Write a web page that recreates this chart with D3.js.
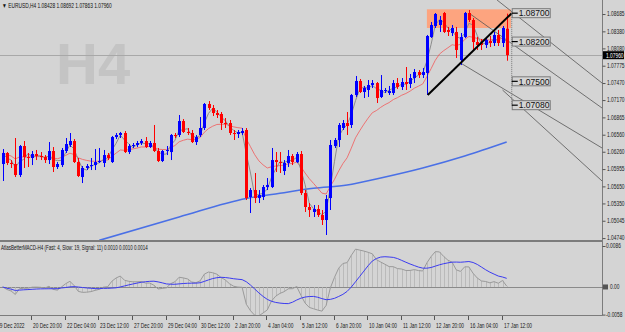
<!DOCTYPE html>
<html><head><meta charset="utf-8">
<script src="https://cdn.jsdelivr.net/npm/d3@7"></script>
<style>
body{margin:0;background:#d4d4d4;overflow:hidden}
svg{display:block}
text{font-family:"Liberation Sans",Arial,sans-serif;}
</style>
</head><body><svg id="c" width="625" height="332"></svg>
<script>
// ---------- DATA ----------
const title = "▼ EURUSD,H4  1.08428 1.08692 1.07863 1.07960";
const macdTitle = "AtlasBetterMACD-H4 (Fast: 4, Slow: 19, Signal: 11) 0.0010 0.0010 0.0014";
const opens = [1.06044,1.06238,1.06062,1.06044,1.05850,1.06361,1.06167,1.06150,1.06220,1.06185,
1.06167,1.06114,1.06273,1.05991,1.06026,1.06273,1.06379,1.06449,1.06079,1.05815,
1.05974,1.06009,1.06026,1.06079,1.06062,1.06202,1.06079,1.06519,1.06555,1.06590,
1.06255,1.06361,1.06379,1.06414,1.06449,1.06343,1.06414,1.06273,1.06097,1.06273,
1.06255,1.06555,1.06555,1.06801,1.06608,1.06590,1.06431,1.06555,1.06678,1.07101,
1.07030,1.06942,1.06925,1.06766,1.06766,1.06590,1.06572,1.06590,1.06643,1.05463,
1.05586,1.05445,1.05463,1.05639,1.05639,1.06114,1.06079,1.05921,1.06062,1.06185,
1.06079,1.06220,1.05533,1.05287,1.05199,1.05252,1.05146,1.05058,1.05445,1.06361,
1.06467,1.06678,1.06766,1.06731,1.07259,1.07506,1.07312,1.07347,1.07435,1.07470,
1.07224,1.07330,1.07294,1.07294,1.07470,1.07400,1.07488,1.07453,1.07558,1.07664,
1.07611,1.07647,1.08280,1.08474,1.08492,1.08703,1.08404,1.08351,1.08369,1.07875,
1.08280,1.08703,1.08580,1.08192,1.08175,1.08140,1.08210,1.08175,1.08316,1.08175,
1.08428];
const highs = [1.06308,1.06255,1.06114,1.06502,1.06379,1.06449,1.06238,1.06273,1.06291,1.06255,
1.06202,1.06431,1.06343,1.06079,1.06326,1.06502,1.06590,1.06484,1.06150,1.06009,
1.06044,1.06150,1.06308,1.06326,1.06291,1.06238,1.06537,1.06590,1.06608,1.06625,
1.06396,1.06414,1.06449,1.06484,1.06519,1.06449,1.06731,1.06326,1.06291,1.06361,
1.06572,1.06590,1.06907,1.06836,1.06678,1.06643,1.06555,1.06872,1.07118,1.07153,
1.07083,1.06995,1.06960,1.06854,1.06819,1.06643,1.06643,1.06678,1.06678,1.05621,
1.05886,1.05586,1.05674,1.05797,1.06326,1.06255,1.06255,1.06114,1.06291,1.06220,
1.06255,1.06273,1.05586,1.05357,1.05322,1.05322,1.05234,1.05498,1.06467,1.06502,
1.06766,1.06819,1.06960,1.07277,1.07594,1.07541,1.07418,1.07523,1.07523,1.07488,
1.07611,1.07382,1.07418,1.07523,1.07558,1.07558,1.07752,1.07629,1.07717,1.07699,
1.07735,1.08316,1.08545,1.08703,1.08650,1.08721,1.08457,1.08492,1.08457,1.08351,
1.08721,1.08756,1.08615,1.08280,1.08245,1.08280,1.08298,1.08369,1.08404,1.08474,
1.08692];
const lows = [1.05745,1.06026,1.05974,1.05815,1.05815,1.05974,1.05991,1.06026,1.06114,1.06114,
1.06062,1.06044,1.05903,1.05956,1.05991,1.06238,1.06343,1.06062,1.05815,1.05709,
1.05938,1.05938,1.05938,1.06062,1.05991,1.06114,1.06062,1.06484,1.06502,1.06238,
1.06220,1.06326,1.06343,1.06379,1.06326,1.06326,1.06255,1.06079,1.06079,1.06202,
1.06114,1.06502,1.06519,1.06590,1.06555,1.06414,1.06379,1.06519,1.06643,1.06995,
1.06889,1.06854,1.06643,1.06678,1.06555,1.06467,1.06502,1.06555,1.05410,1.05181,
1.05357,1.05357,1.05410,1.05586,1.05621,1.05903,1.05886,1.05850,1.05991,1.06026,
1.06062,1.05498,1.05199,1.05111,1.05111,1.05111,1.04970,1.04794,1.05234,1.06326,
1.06343,1.06643,1.06555,1.06678,1.07224,1.07294,1.07206,1.07224,1.07382,1.07118,
1.07206,1.07294,1.07259,1.07259,1.07365,1.07347,1.07347,1.07382,1.07470,1.07558,
1.07558,1.07259,1.08263,1.08439,1.08369,1.08351,1.08298,1.08298,1.07911,1.07787,
1.08263,1.08545,1.08052,1.08052,1.08052,1.08087,1.08104,1.08122,1.08122,1.08104,
1.07863];
const closes = [1.06238,1.06062,1.06044,1.05850,1.06361,1.06167,1.06150,1.06220,1.06185,1.06167,
1.06114,1.06273,1.05991,1.06044,1.06291,1.06396,1.06449,1.06079,1.05833,1.05974,
1.06009,1.06026,1.06079,1.06097,1.06202,1.06150,1.06519,1.06555,1.06590,1.06255,
1.06361,1.06379,1.06414,1.06449,1.06343,1.06414,1.06273,1.06097,1.06273,1.06291,
1.06555,1.06537,1.06801,1.06608,1.06590,1.06431,1.06519,1.06678,1.07101,1.07030,
1.06942,1.06907,1.06766,1.06748,1.06590,1.06572,1.06608,1.06625,1.05445,1.05586,
1.05445,1.05498,1.05639,1.05674,1.06114,1.06079,1.06062,1.06062,1.06185,1.06079,
1.06220,1.05533,1.05287,1.05234,1.05252,1.05146,1.05058,1.05428,1.06379,1.06467,
1.06731,1.06766,1.06713,1.07259,1.07506,1.07312,1.07382,1.07435,1.07470,1.07206,
1.07347,1.07347,1.07330,1.07470,1.07400,1.07488,1.07453,1.07558,1.07664,1.07611,
1.07664,1.08298,1.08492,1.08686,1.08580,1.08369,1.08369,1.08439,1.08052,1.08280,
1.08703,1.08580,1.08192,1.08140,1.08140,1.08228,1.08175,1.08316,1.08175,1.08439,
1.07960];
const priceTicks = [1.08685,1.08380,1.08080,1.07775,1.07470,1.07170,1.06865,1.06560,1.06260,1.05955,1.05650,1.05350,1.05045,1.04740];
const currentPrice = 1.07960;
const timeTickIdx = [7,15,23,31,39,47,55,63,71,79,87,95,103,111,119];
const timeTickLabels = ["20 Dec 20:00","22 Dec 04:00","23 Dec 12:00","27 Dec 20:00","29 Dec 04:00","30 Dec 12:00","2 Jan 20:00","4 Jan 04:00","5 Jan 12:00","6 Jan 20:00","10 Jan 04:00","11 Jan 12:00","12 Jan 20:00","16 Jan 04:00","17 Jan 12:00"];
const firstDateLabel = "19 Dec 2022";
const maSlowIdx = [23,42,58,66,74,82,90,100,110,120];
const maSlowVal = [1.04700,1.05111,1.05437,1.05528,1.05616,1.05674,1.05798,1.05974,1.06185,1.06432];
// drawn objects
const boxIdx = [101,121];
const boxPrice = [1.08768,1.08439];
const trendIdx = [101.2,121.2];
const trendPrice = [1.07259,1.08700];
const levelPrices = [1.08700,1.08200,1.07500,1.07080];
const levelLabels = ["1.08700","1.08200","1.07500","1.07080"];
const channelLines = [
  [[117.7,1.08932],[142.7,1.07470]],
  [[111.3,1.08686],[142.7,1.07030]],
  [[109.0,1.07823],[142.7,1.06326]],
  [[119.0,1.07347],[142.7,1.05745]]
];
const macdTicks = [0.0086,0,-0.0058];
const macdTickLabels = ["0.0086","0.00","-0.0058"];
const fastLen = 4, slowLen = 19, sigLen = 11;

// ---------- LAYOUT ----------
const svg = d3.select("#c");
const W = 625, H = 332, axisX = 602;
const mainTop = 0, mainBot = 240, macdTop = 246, macdBot = 314.6, frameBot = 315;
const FS = 6.4, SX = 0.76;
function smallText(parent, tx, ty, str, fill, sx){
  return parent.append("text").attr("transform",`translate(${tx},${ty}) scale(${sx||SX},1)`)
    .attr("font-size",FS).attr("fill",fill||"#1a1a1a").text(str);
}
svg.append("rect").attr("width",W).attr("height",H).attr("fill","#d4d4d4");

const x = d3.scaleLinear().domain([0,120]).range([2.7,506.7]);
const y = d3.scaleLinear().domain([1.04706,1.08932]).range([mainBot,mainTop]);
const ym = d3.scaleLinear().domain([-0.0058,0.0086]).range([macdBot,macdTop]);

svg.append("clipPath").attr("id","cm").append("rect").attr("x",0).attr("y",0).attr("width",axisX).attr("height",mainBot);
svg.append("clipPath").attr("id","cmm").append("rect").attr("x",0).attr("y",242).attr("width",axisX).attr("height",frameBot-242);

// watermark
svg.append("text").attr("x",56).attr("y",84).attr("font-size",58).attr("font-weight","bold")
  .attr("fill","#c4c4c4").text("H4");

const g = svg.append("g").attr("clip-path","url(#cm)");

// orange box (background object)
g.append("rect").attr("x",x(boxIdx[0])).attr("y",y(boxPrice[0]))
  .attr("width",x(boxIdx[1])-x(boxIdx[0])).attr("height",y(boxPrice[1])-y(boxPrice[0]))
  .attr("fill","#fda47f");

// current price line
const cpY = Math.round(y(currentPrice))+0.5;
g.append("line").attr("x1",0).attr("x2",axisX).attr("y1",cpY).attr("y2",cpY)
  .attr("stroke","#a8a8a8").attr("stroke-width",1);

// channel lines
channelLines.forEach(l=>{
  g.append("line").attr("x1",x(l[0][0])).attr("y1",y(l[0][1])).attr("x2",x(l[1][0])).attr("y2",y(l[1][1]))
   .attr("stroke","#555").attr("stroke-width",0.8);
});

// moving averages
function ema(arr,n){const a=2/(n+1);const out=[];let e=arr[0];arr.forEach((v,i)=>{e=i===0?v:e+a*(v-e);out.push(e);});return out;}
function sma(arr,n){return arr.map((v,i)=>d3.mean(arr.slice(Math.max(0,i-n+1),i+1)));}
const maFast = sma(closes,3);
const maMid = ema(closes,12);
const lineGen = d3.line().x((d,i)=>x(i)).y(d=>y(d));
g.append("path").attr("d",d3.line().x((d,i)=>x(maSlowIdx[i])).y(d=>y(d)).curve(d3.curveMonotoneX)(maSlowVal))
  .attr("fill","none").attr("stroke","#4a70e6").attr("stroke-width",1.6);
g.append("path").attr("d",lineGen(maMid)).attr("fill","none").attr("stroke","#f06262").attr("stroke-width",1).attr("opacity",0.85);
g.append("path").attr("d",lineGen(maFast)).attr("fill","none").attr("stroke","#8c8c8c").attr("stroke-width",1);

// candles
const idx = d3.range(closes.length);
const cg = g.append("g");
idx.forEach(i=>{
  const up = closes[i]>=opens[i];
  const col = up?"#0000ff":"#ff0000";
  const cx = Math.round(x(i))+0.5;
  cg.append("line").attr("x1",cx).attr("x2",cx).attr("y1",y(highs[i])).attr("y2",y(lows[i])).attr("stroke",col).attr("stroke-width",1);
  const top = y(Math.max(opens[i],closes[i])), bot = y(Math.min(opens[i],closes[i]));
  cg.append("rect").attr("x",Math.round(x(i))-1).attr("y",top).attr("width",3).attr("height",Math.max(1,bot-top)).attr("fill",col);
});

// trend line
g.append("line").attr("x1",x(trendIdx[0])).attr("y1",y(trendPrice[0])).attr("x2",x(trendIdx[1])).attr("y2",y(trendPrice[1]))
  .attr("stroke","#000").attr("stroke-width",2);
// dotted vertical at label position
g.append("line").attr("x1",x(trendIdx[1])).attr("x2",x(trendIdx[1])).attr("y1",y(levelPrices[0])).attr("y2",y(levelPrices[3]))
  .attr("stroke","#777").attr("stroke-width",1).attr("stroke-dasharray","1,1");
// level labels
levelPrices.forEach((p,k)=>{
  const yy = y(p), lx = x(trendIdx[1]);
  g.append("rect").attr("x",lx+0.5).attr("y",yy-4.5).attr("width",38).attr("height",9)
   .attr("fill","#d4d4d4").attr("stroke","#7a7a7a").attr("stroke-width",1);
  g.append("line").attr("x1",lx).attr("x2",lx+6).attr("y1",yy).attr("y2",yy).attr("stroke","#000").attr("stroke-width",1.2);
  g.append("text").attr("x",lx+7).attr("y",yy+3.2).attr("font-size",8.5).attr("fill","#111").text(levelLabels[k]);
});

// ---------- MACD ----------
const ef = ema(closes,fastLen), es = ema(closes,slowLen);
const macd = closes.map((c,i)=>ef[i]-es[i]);
const signal = sma(macd,sigLen);
const mg = svg.append("g").attr("clip-path","url(#cmm)");
const zY = Math.round(ym(0))+0.5;
mg.append("line").attr("x1",0).attr("x2",axisX).attr("y1",zY).attr("y2",zY).attr("stroke","#8a8a8a");
idx.forEach(i=>{
  mg.append("line").attr("x1",Math.round(x(i))+0.5).attr("x2",Math.round(x(i))+0.5).attr("y1",ym(0)).attr("y2",ym(macd[i]))
    .attr("stroke","#b4b4b4").attr("stroke-width",0.8);
});
mg.append("path").attr("d",d3.line().x((d,i)=>x(i)).y(d=>ym(d))(macd)).attr("fill","none").attr("stroke","#9a9a9a").attr("stroke-width",1);
mg.append("path").attr("d",d3.line().x((d,i)=>x(i)).y(d=>ym(d))(signal)).attr("fill","none").attr("stroke","#3b3bf0").attr("stroke-width",1);

// ---------- FRAMES & AXES ----------
svg.append("line").attr("x1",0).attr("x2",axisX).attr("y1",241).attr("y2",241).attr("stroke","#7c7c7c").attr("stroke-width",2);
svg.append("line").attr("x1",0).attr("x2",axisX+0.5).attr("y1",frameBot+0.5).attr("y2",frameBot+0.5).attr("stroke","#7c7c7c");
svg.append("line").attr("x1",axisX+0.5).attr("x2",axisX+0.5).attr("y1",0).attr("y2",frameBot+0.5).attr("stroke","#7c7c7c");

const ya = svg.append("g").attr("transform",`translate(${axisX+0.5},0)`)
  .call(d3.axisRight(y).tickValues(priceTicks).tickSize(3).tickFormat(""));
ya.select(".domain").remove();
ya.selectAll("line").attr("stroke","#555");
const fmt5 = d3.format(".5f");
priceTicks.forEach(p=>smallText(svg, axisX+5, y(p)+2.2, fmt5(p)));

// current price tag
svg.append("rect").attr("x",axisX+1).attr("y",y(currentPrice)-4).attr("width",21).attr("height",8).attr("fill","#000");
smallText(svg, axisX+4, y(currentPrice)+2.3, fmt5(currentPrice), "#fff");

// MACD axis
const mAx = svg.append("g").attr("transform",`translate(${axisX+0.5},0)`)
  .call(d3.axisRight(ym).tickValues(macdTicks).tickSize(3).tickFormat(""));
mAx.select(".domain").remove();
mAx.selectAll("line").attr("stroke","#555");
macdTicks.forEach((v,k)=>smallText(svg, axisX+(k===1?8:4), ym(v)+2.2, macdTickLabels[k]));
svg.append("rect").attr("x",axisX+1).attr("y",ym(0)-2.5).attr("width",5).attr("height",5).attr("fill","#555");

// time axis
const xa = svg.append("g");
timeTickIdx.forEach((ti,k)=>{
  const tx = Math.round(x(ti))-0.5;
  xa.append("line").attr("x1",tx).attr("x2",tx).attr("y1",frameBot+1).attr("y2",frameBot+5).attr("stroke","#555");
  smallText(xa, tx+1.5, frameBot+13, timeTickLabels[k]);
});
smallText(xa, -3, frameBot+13, firstDateLabel);

// titles
smallText(svg, 2, 8, title, "#111");
smallText(svg, 1, 250, macdTitle, "#111", 0.7);
</script>
</body></html>
